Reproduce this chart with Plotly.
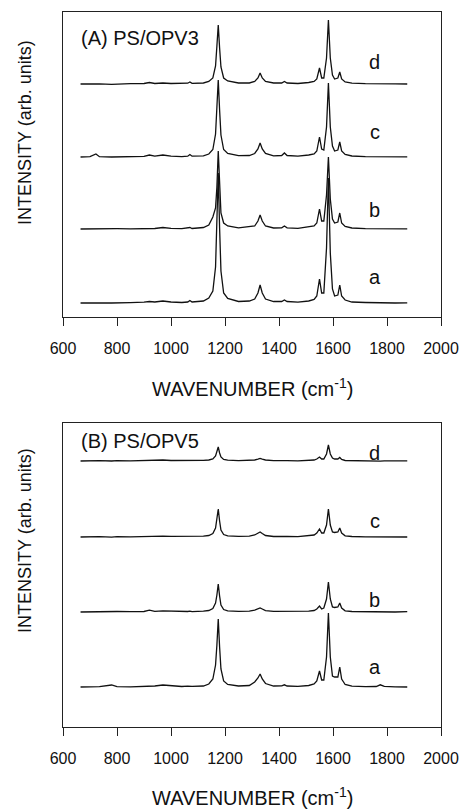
import plotly.graph_objects as go

# Wavenumber grid (cm^-1)
wavenumber = [665, 700, 722, 735, 780, 800, 850, 900, 920, 940,
              970, 1000, 1040, 1062, 1070, 1078, 1120, 1140, 1155, 1165,
              1170, 1175, 1180, 1185, 1195, 1210, 1250, 1290, 1310, 1322,
              1330, 1338, 1350, 1380, 1410, 1420, 1430, 1470, 1510, 1530,
              1540, 1550, 1558, 1566, 1576, 1583, 1590, 1598, 1606, 1618,
              1625, 1632, 1645, 1670, 1720, 1760, 1775, 1790, 1830, 1875]

# Panel A: PS/OPV3 intensities (arb. units, baseline-relative)
opv3_a = [0, 0.3, 0, 0.2, 0, 0.3, 0.4, 0.8, 1.5, 1,
          2, 1, 0.5, 1, 2.5, 1, 2, 5, 12, 36,
          80, 130, 75, 32, 10, 4.5, 1.5, 2, 4, 10,
          18, 10, 4, 1.5, 1.5, 3, 1.5, 0.8, 2, 3.5,
          7, 24, 10, 10, 55, 125, 50, 14, 7, 8,
          18, 7, 3, 1, 0.5, 0.2, 0, 0.3, 0, 0.2]
opv3_b = [0, 0.2, 0, 0.3, 0, 0.3, 0.2, 0.5, 1, 0.5,
          1.5, 0.6, 0.3, 0.8, 1.5, 0.5, 1.5, 4, 12, 21,
          42, 78, 40, 16, 6, 3, 1.2, 2, 3, 8,
          14, 8, 3, 1, 1.2, 3, 1.2, 0.6, 1.8, 3,
          6, 20, 8, 8, 34, 72, 30, 10, 6, 7,
          16, 6, 2.5, 1, 0.3, 0.2, 0, 0.3, 0, 0.2]
opv3_c = [0, 0.3, 3, 0.3, 0, 0.2, 0.3, 0.6, 2, 0.8,
          2, 0.8, 0.4, 0.8, 2.5, 0.8, 1.2, 3, 7.5, 23,
          50, 77, 47, 22, 7.5, 3.5, 1.3, 1.5, 3.5, 8,
          14, 8, 3.5, 1.2, 1.5, 4, 1.5, 0.8, 2, 3,
          6, 20, 8, 7, 30, 74, 30, 11, 6, 7,
          15, 6, 2.5, 1, 0.4, 0.2, 0, 0.3, 0, 0.2]
opv3_d = [0, 0.3, 0, 0.2, -0.3, 0, 0.3, 0.5, 1.5, 0.5,
          1, 0.5, 0.3, 0.8, 2, 0.6, 1, 2.5, 6, 18,
          38, 59, 36, 17, 6, 3, 1, 1, 2.5, 6,
          11, 6, 2.5, 1, 1, 2.5, 1, 0.5, 1.5, 2.5,
          5, 16, 6, 6, 26, 64, 26, 9, 5, 6,
          12, 5, 2, 0.8, 0.3, 0, 0.3, -0.2, 0.2, 0]

# Panel B: PS/OPV5 intensities
opv5_a = [0, 0.3, 0.2, 0.3, 2, 0.4, 0.2, 0.6, 1.5, 1,
          2, 1.2, 0.5, 0.8, 1, 0.6, 1, 3, 8, 22,
          42, 68, 40, 18, 6, 2.5, 1, 1.5, 5, 9,
          13, 8, 3.5, 1, 1.2, 2.2, 1, 0.6, 1.5, 3,
          6, 16, 7, 7, 30, 74, 30, 11, 10, 10,
          20, 8, 2.5, 0.8, 0.3, 0.5, 2.2, 0.6, 0.2, 0]
opv5_b = [0, 0.3, 0.5, 0.2, 0.3, 0.5, 0.3, 0.5, 1.8, 0.6,
          1.2, 0.8, 0.4, 0.5, 0.8, 0.4, 0.8, 1.5, 3.5, 9,
          17, 28, 16, 7, 2.5, 1.2, 0.6, 0.8, 1.8, 3,
          4, 3, 1.4, 0.6, 0.5, 1, 0.5, 0.3, 0.8, 1.5,
          3, 6, 3, 4, 13, 30, 13, 5, 4.5, 5,
          9, 4, 1.2, 0.5, 0.2, 0.3, 0, 0.2, 0, 0.3]
opv5_c = [0, 0.4, 0, 0.3, -0.2, 0.3, 0.2, 0.6, 0.5, 0.3,
          0.8, 0.6, 0.5, 0.3, 0.7, 0.3, 0.8, 1.5, 3.5, 9,
          17, 28, 16, 7, 2.5, 1.2, 0.6, 0.8, 2, 3.5,
          5, 3.5, 1.5, 0.5, 0.6, 1.2, 0.6, 0.3, 1, 2,
          4, 8, 4, 4, 12, 28, 12, 5, 4.5, 5,
          9, 4, 1.2, 0.5, 0.2, 0.3, 0, 0.3, 0.1, 0]
opv5_d = [0, 0.3, -0.2, 0.3, 0, 0.4, 0.2, 0.5, 0.8, 0.3,
          1, 0.5, 0.4, 0.2, 0.8, 0.2, 0.6, 1, 2, 5,
          9, 14, 8, 4, 1.5, 0.8, 0.4, 0.5, 1, 1.8,
          2.5, 1.8, 1, 0.4, 0.5, 0.8, 0.4, 0.2, 0.8, 1,
          2, 4, 2, 2, 7, 16, 7, 3, 2, 2,
          3.5, 1.5, 0.5, 0.3, 0, 0.3, -0.2, 0.2, 0, 0.2]

# Vertical stacking offsets of traces a, b, c, d
offsets_A = [14, 88, 160, 233]
offsets_B = [40, 115, 190, 266]
trace_labels = ["a", "b", "c", "d"]
panel_titles = ["(A) PS/OPV3", "(B) PS/OPV5"]
x_ticks = [600, 800, 1000, 1200, 1400, 1600, 1800, 2000]

FONT = "Liberation Sans, Arial, Helvetica, sans-serif"
LINE = "#111111"

fig = go.Figure()

panels = [
    ([opv3_a, opv3_b, opv3_c, opv3_d], offsets_A, "x", "y"),
    ([opv5_a, opv5_b, opv5_c, opv5_d], offsets_B, "x2", "y2"),
]
for series, offs, xa, ya in panels:
    for vals, off in zip(series, offs):
        fig.add_trace(go.Scatter(
            x=wavenumber, y=[v + off for v in vals], mode="lines",
            line=dict(color=LINE, width=1.3), xaxis=xa, yaxis=ya,
            showlegend=False, hoverinfo="skip"))

W, H = 465, 810
x_dom = [63 / W, 441 / W]
dom_A = [1 - 317 / H, 1 - 12 / H]
dom_B = [1 - 727 / H, 1 - 423 / H]

xcommon = dict(range=[600, 2000], tickvals=x_ticks, ticks="outside", ticklen=8,
               tickwidth=1.2, tickcolor="#222", showline=True, linecolor="#222",
               linewidth=1.2, mirror=True, showgrid=False, zeroline=False,
               tickfont=dict(family=FONT, size=16, color="#111"),
               ticklabelstandoff=9, domain=x_dom, automargin=False)
ycommon = dict(showticklabels=False, ticks="", showline=True, linecolor="#222",
               linewidth=1.2, mirror=True, showgrid=False, zeroline=False,
               automargin=False)

fig.update_layout(
    width=W, height=H, margin=dict(l=0, r=0, t=0, b=0, autoexpand=False),
    paper_bgcolor="white", plot_bgcolor="white",
    xaxis=dict(**xcommon, anchor="y"),
    yaxis=dict(**ycommon, range=[0, 305], domain=dom_A, anchor="x"),
    xaxis2=dict(**xcommon, anchor="y2"),
    yaxis2=dict(**ycommon, range=[0, 304], domain=dom_B, anchor="x2"),
)

ann = []
label_y_A = [40, 107, 185, 255]
label_y_B = [60, 127, 206, 274]
for lab, ya_, yb_ in zip(trace_labels, label_y_A, label_y_B):
    ann.append(dict(x=1755, y=ya_, xref="x", yref="y", text=lab, showarrow=False,
                    xanchor="center", yanchor="middle",
                    font=dict(family=FONT, size=20, color="#111")))
    ann.append(dict(x=1755, y=yb_, xref="x2", yref="y2", text=lab, showarrow=False,
                    xanchor="center", yanchor="middle",
                    font=dict(family=FONT, size=20, color="#111")))
ann.append(dict(x=660, y=279, xref="x", yref="y", text=panel_titles[0], xanchor="left",
                yanchor="middle", showarrow=False,
                font=dict(family=FONT, size=20, color="#111")))
ann.append(dict(x=660, y=286, xref="x2", yref="y2", text=panel_titles[1], xanchor="left",
                yanchor="middle", showarrow=False,
                font=dict(family=FONT, size=20, color="#111")))
for yc in [388, 796]:
    ann.append(dict(x=252 / W, y=1 - yc / H, xref="paper", yref="paper",
                    xanchor="center", yanchor="middle",
                    text="WAVENUMBER (cm<sup>-1</sup>)", showarrow=False,
                    font=dict(family=FONT, size=20, color="#111")))
for yc in [133, 541]:
    ann.append(dict(x=25 / W, y=1 - yc / H, xref="paper", yref="paper",
                    xanchor="center", yanchor="middle",
                    text="INTENSITY (arb. units)", textangle=-90, showarrow=False,
                    font=dict(family=FONT, size=18, color="#111")))
fig.update_layout(annotations=ann)

fig.write_html("out.html",
               config={"displayModeBar": False},
               post_script="document.body.style.margin='0px';"
                           "document.body.style.overflow='hidden';")
